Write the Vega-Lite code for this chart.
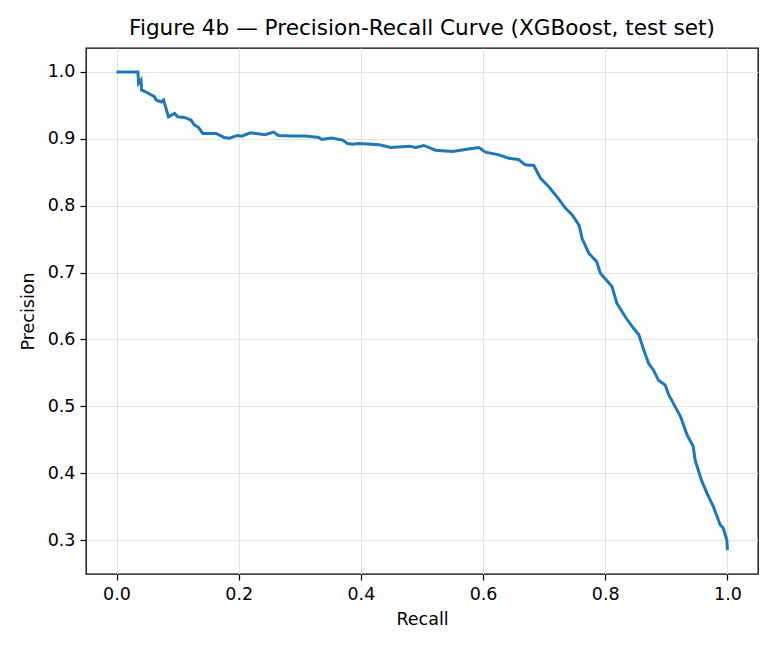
{
  "$schema": "https://vega.github.io/schema/vega-lite/v6.json",
  "width": 672,
  "height": 526,
  "autosize": {"type": "none"},
  "padding": {"left": 86, "top": 48, "right": 21, "bottom": 76},
  "background": "white",
  "title": {
    "text": "Figure 4b — Precision-Recall Curve (XGBoost, test set)",
    "fontSize": 21.6,
    "fontWeight": "normal",
    "font": "DejaVu Sans",
    "color": "black",
    "offset": 8
  },
  "config": {
    "font": "DejaVu Sans",
    "view": {"stroke": "black", "strokeWidth": 1.3},
    "axis": {
      "domain": false,
      "tickColor": "black",
      "tickSize": 6,
      "tickWidth": 1.2,
      "labelColor": "black",
      "labelFontSize": 17.5,
      "labelPadding": 5,
      "titleColor": "black",
      "titleFontSize": 17.5,
      "titleFontWeight": "normal",
      "gridColor": "#e3e3e3",
      "gridWidth": 1.1
    }
  },
  "data": {
    "values": [
      {"recall": 0.000, "precision": 1.000},
      {"recall": 0.035, "precision": 1.000},
      {"recall": 0.036, "precision": 0.983},
      {"recall": 0.040, "precision": 0.988},
      {"recall": 0.041, "precision": 0.973},
      {"recall": 0.046, "precision": 0.971},
      {"recall": 0.054, "precision": 0.967},
      {"recall": 0.062, "precision": 0.963},
      {"recall": 0.065, "precision": 0.958},
      {"recall": 0.073, "precision": 0.955},
      {"recall": 0.077, "precision": 0.958},
      {"recall": 0.085, "precision": 0.933},
      {"recall": 0.095, "precision": 0.938},
      {"recall": 0.100, "precision": 0.933},
      {"recall": 0.111, "precision": 0.932},
      {"recall": 0.122, "precision": 0.928},
      {"recall": 0.127, "precision": 0.921},
      {"recall": 0.134, "precision": 0.917},
      {"recall": 0.141, "precision": 0.908},
      {"recall": 0.163, "precision": 0.908},
      {"recall": 0.176, "precision": 0.902},
      {"recall": 0.185, "precision": 0.901},
      {"recall": 0.198, "precision": 0.905},
      {"recall": 0.205, "precision": 0.904},
      {"recall": 0.219, "precision": 0.909},
      {"recall": 0.243, "precision": 0.906},
      {"recall": 0.257, "precision": 0.910},
      {"recall": 0.265, "precision": 0.905},
      {"recall": 0.287, "precision": 0.904},
      {"recall": 0.309, "precision": 0.904},
      {"recall": 0.331, "precision": 0.902},
      {"recall": 0.336, "precision": 0.899},
      {"recall": 0.352, "precision": 0.901},
      {"recall": 0.370, "precision": 0.898},
      {"recall": 0.378, "precision": 0.893},
      {"recall": 0.386, "precision": 0.892},
      {"recall": 0.397, "precision": 0.893},
      {"recall": 0.430, "precision": 0.891},
      {"recall": 0.449, "precision": 0.887},
      {"recall": 0.479, "precision": 0.889},
      {"recall": 0.490, "precision": 0.887},
      {"recall": 0.503, "precision": 0.890},
      {"recall": 0.522, "precision": 0.883},
      {"recall": 0.550, "precision": 0.881},
      {"recall": 0.571, "precision": 0.884},
      {"recall": 0.593, "precision": 0.887},
      {"recall": 0.604, "precision": 0.880},
      {"recall": 0.626, "precision": 0.876},
      {"recall": 0.642, "precision": 0.871},
      {"recall": 0.658, "precision": 0.869},
      {"recall": 0.669, "precision": 0.861},
      {"recall": 0.683, "precision": 0.860},
      {"recall": 0.694, "precision": 0.841},
      {"recall": 0.708, "precision": 0.828},
      {"recall": 0.723, "precision": 0.811},
      {"recall": 0.735, "precision": 0.796},
      {"recall": 0.746, "precision": 0.786},
      {"recall": 0.757, "precision": 0.771},
      {"recall": 0.762, "precision": 0.751},
      {"recall": 0.773, "precision": 0.729},
      {"recall": 0.786, "precision": 0.716},
      {"recall": 0.792, "precision": 0.699},
      {"recall": 0.811, "precision": 0.679},
      {"recall": 0.819, "precision": 0.654},
      {"recall": 0.834, "precision": 0.632},
      {"recall": 0.846, "precision": 0.617},
      {"recall": 0.855, "precision": 0.607},
      {"recall": 0.863, "precision": 0.584},
      {"recall": 0.871, "precision": 0.564},
      {"recall": 0.879, "precision": 0.554},
      {"recall": 0.887, "precision": 0.539},
      {"recall": 0.898, "precision": 0.532},
      {"recall": 0.904, "precision": 0.517},
      {"recall": 0.917, "precision": 0.495},
      {"recall": 0.923, "precision": 0.485},
      {"recall": 0.934, "precision": 0.457},
      {"recall": 0.944, "precision": 0.440},
      {"recall": 0.947, "precision": 0.420},
      {"recall": 0.958, "precision": 0.388},
      {"recall": 0.969, "precision": 0.365},
      {"recall": 0.977, "precision": 0.350},
      {"recall": 0.988, "precision": 0.323},
      {"recall": 0.993, "precision": 0.318},
      {"recall": 0.999, "precision": 0.300},
      {"recall": 1.000, "precision": 0.285}
    ]
  },
  "mark": {"type": "line", "color": "#1f77b4", "strokeWidth": 3, "clip": true},
  "encoding": {
    "x": {
      "field": "recall",
      "type": "quantitative",
      "title": "Recall",
      "scale": {"domain": [-0.05, 1.05], "nice": false, "zero": false},
      "axis": {"values": [0, 0.2, 0.4, 0.6, 0.8, 1.0], "format": ".1f", "titlePadding": 8}
    },
    "y": {
      "field": "precision",
      "type": "quantitative",
      "title": "Precision",
      "scale": {"domain": [0.24925, 1.03575], "nice": false, "zero": false},
      "axis": {"values": [0.3, 0.4, 0.5, 0.6, 0.7, 0.8, 0.9, 1.0], "format": ".1f", "titlePadding": 10}
    }
  }
}
